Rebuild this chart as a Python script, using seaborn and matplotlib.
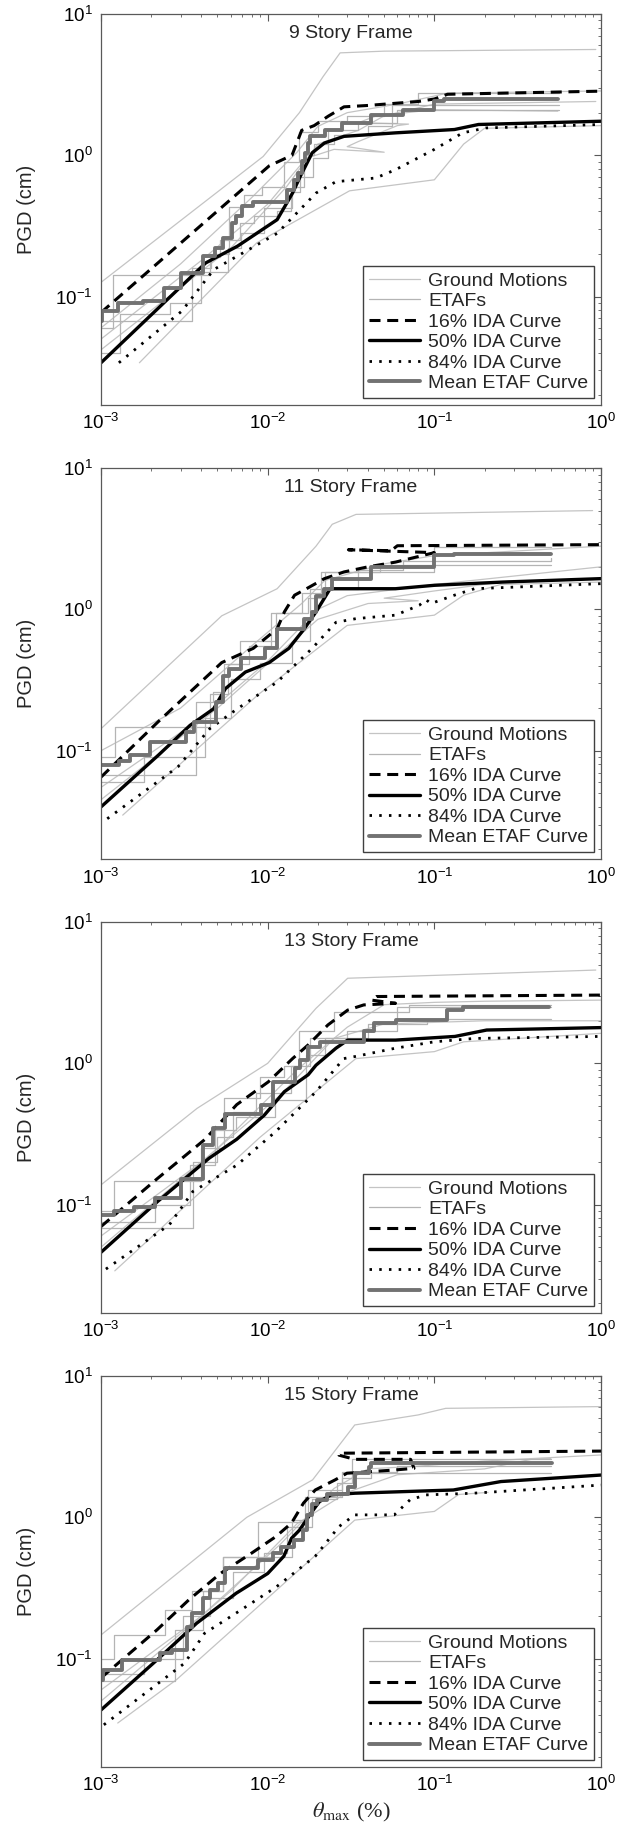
import matplotlib
matplotlib.use("Agg")
import matplotlib.pyplot as plt
import seaborn as sns

# ---- 9 story frame ----
gm9_top = [(0.001, 0.126), (0.0094, 0.98), (0.0155, 2.0), (0.0215, 3.6), (0.0272, 5.3), (0.05, 5.45), (0.93, 5.6)]
gm9_low = [(0.0017, 0.034), (0.0086, 0.24), (0.031, 0.56), (0.1, 0.67), (0.15, 1.2), (0.2, 1.55), (1.0, 1.62)]
gm9_mid1 = [(0.001, 0.05), (0.004, 0.18), (0.01, 0.45), (0.017, 0.95), (0.025, 1.1), (0.05, 1.05), (0.03, 1.15),
            (0.035, 1.25), (0.06, 1.62), (0.07, 1.66), (0.035, 1.7), (0.045, 1.9), (0.1, 2.1), (0.55, 2.05)]
gm9_mid2 = [(0.001, 0.06), (0.003, 0.17), (0.008, 0.5), (0.015, 1.05), (0.02, 1.6), (0.03, 2.0), (0.06, 2.3),
            (0.12, 2.75), (1.0, 2.85)]
gm9_mid3 = [(0.001, 0.042), (0.006, 0.22), (0.013, 0.6), (0.02, 1.2), (0.035, 1.5), (0.05, 1.9), (0.1, 2.3), (0.93, 2.4)]
etaf9_a = [(0.001, 0.06), (0.00118, 0.143), (0.0031, 0.143), (0.0045, 0.2), (0.0059, 0.43), (0.0072, 0.52),
           (0.0092, 0.6), (0.0125, 0.9), (0.0155, 1.45), (0.02, 1.75), (0.03, 1.9), (0.05, 2.3), (0.08, 2.75), (0.56, 2.75)]
etaf9_b = [(0.001, 0.067), (0.0035, 0.16), (0.0046, 0.19), (0.0052, 0.25), (0.0068, 0.33), (0.0083, 0.37),
           (0.0113, 0.4), (0.0138, 0.55), (0.0157, 0.7), (0.0188, 0.95), (0.023, 1.5), (0.035, 1.7), (0.06, 2.1), (0.56, 2.1)]
etaf9_c = [(0.001, 0.04), (0.0013, 0.075), (0.0026, 0.09), (0.004, 0.15), (0.0058, 0.22), (0.0069, 0.28),
           (0.0095, 0.42), (0.014, 0.6), (0.0165, 1.0), (0.019, 1.2), (0.025, 1.4), (0.04, 1.6), (0.056, 2.25), (0.56, 2.25)]
ida16_9 = [(0.001, 0.077), (0.0102, 0.84), (0.014, 1.0), (0.016, 1.5), (0.019, 1.62), (0.0231, 1.89), (0.0287, 2.2),
           (0.04, 2.25), (0.08, 2.4), (0.1, 2.5), (0.12, 2.7), (1.0, 2.84)]
ida50_9 = [(0.001, 0.034), (0.00425, 0.173), (0.00658, 0.227), (0.0114, 0.35), (0.0141, 0.54), (0.0157, 0.71),
           (0.0185, 1.04), (0.0219, 1.22), (0.0287, 1.36), (0.0585, 1.44), (0.132, 1.52), (0.184, 1.65), (1.0, 1.74)]
ida84_9 = [(0.00128, 0.034), (0.00306, 0.079), (0.00474, 0.155), (0.0114, 0.28), (0.0195, 0.54), (0.0257, 0.65),
           (0.0445, 0.69), (0.0585, 0.79), (0.1, 1.1), (0.148, 1.44), (0.204, 1.56), (1.0, 1.65)]
mean9 = [(0.001, 0.067), (0.00101, 0.079), (0.00127, 0.09), (0.00179, 0.093), (0.0024, 0.115), (0.00304, 0.147),
         (0.0041, 0.193), (0.0048, 0.221), (0.0054, 0.26), (0.0061, 0.33), (0.0065, 0.37), (0.007, 0.44),
         (0.0082, 0.47), (0.013, 0.57), (0.0143, 0.67), (0.0153, 0.75), (0.016, 0.91), (0.0167, 1.04),
         (0.0175, 1.22), (0.018, 1.36), (0.0221, 1.52), (0.028, 1.69), (0.0417, 1.94), (0.065, 2.1),
         (0.1, 2.4), (0.115, 2.5), (0.55, 2.5)]

# ---- 11 story frame ----
gm11_top = [(0.001, 0.143), (0.0053, 0.9), (0.0114, 1.4), (0.0195, 2.8), (0.0244, 4.0), (0.0339, 4.7), (0.89, 5.0)]
gm11_low = [(0.00135, 0.035), (0.0088, 0.25), (0.03, 0.77), (0.1, 0.91), (0.15, 1.26), (0.25, 1.5), (1.0, 1.56)]
gm11_mid1 = [(0.001, 0.055), (0.004, 0.17), (0.01, 0.43), (0.02, 1.0), (0.03, 1.25), (0.1, 1.5), (1.0, 2.0)]
gm11_mid2 = [(0.001, 0.1), (0.003, 0.2), (0.008, 0.55), (0.016, 1.1), (0.022, 1.6), (0.05, 2.1), (0.1, 2.4), (1.0, 2.8)]
gm11_mid3 = [(0.001, 0.045), (0.005, 0.2), (0.012, 0.5), (0.02, 0.85), (0.04, 1.1), (0.08, 1.15), (0.05, 1.2), (0.1, 1.35), (0.3, 1.6)]
etaf11_a = [(0.001, 0.067), (0.0037, 0.22), (0.0047, 0.26), (0.0055, 0.41), (0.0077, 0.55), (0.0105, 0.95),
            (0.0175, 1.2), (0.022, 1.85), (0.047, 2.07), (0.5, 2.07)]
etaf11_b = [(0.001, 0.09), (0.00121, 0.147), (0.0031, 0.147), (0.0045, 0.25), (0.0058, 0.41), (0.0068, 0.6),
            (0.0112, 0.95), (0.016, 1.3), (0.021, 1.85), (0.05, 1.85), (0.1, 2.75), (0.5, 2.75)]
etaf11_c = [(0.001, 0.06), (0.0018, 0.09), (0.0042, 0.17), (0.006, 0.32), (0.009, 0.42), (0.014, 0.6),
            (0.018, 1.4), (0.035, 1.9), (0.065, 2.2), (0.5, 2.3)]
ida16_11 = [(0.001, 0.065), (0.0022, 0.16), (0.0053, 0.42), (0.0082, 0.53), (0.0114, 0.73), (0.0126, 0.96),
            (0.0145, 1.26), (0.0171, 1.4), (0.0219, 1.65), (0.0287, 1.84), (0.04, 2.0), (0.0585, 2.16),
            (0.1, 2.52), (0.0305, 2.64), (0.055, 2.6), (0.06, 2.82), (1.0, 2.87)]
ida50_11 = [(0.001, 0.040), (0.00221, 0.093), (0.00342, 0.151), (0.00474, 0.198), (0.00558, 0.275), (0.00735, 0.36),
            (0.0102, 0.42), (0.0134, 0.53), (0.0166, 0.73), (0.0195, 0.96), (0.0237, 1.40), (0.0585, 1.40),
            (0.1, 1.48), (0.257, 1.56), (1.0, 1.65)]
ida84_11 = [(0.00109, 0.033), (0.0029, 0.077), (0.00449, 0.143), (0.00658, 0.198), (0.0114, 0.306), (0.0185, 0.53),
            (0.0257, 0.81), (0.0339, 0.86), (0.0585, 0.91), (0.0813, 1.07), (0.0891, 1.17), (0.0955, 1.1),
            (0.132, 1.26), (0.174, 1.40), (1.0, 1.52)]
mean11 = [(0.001, 0.079), (0.00128, 0.085), (0.0015, 0.093), (0.00198, 0.115), (0.00324, 0.135), (0.0036, 0.16),
          (0.00487, 0.22), (0.00543, 0.34), (0.00589, 0.38), (0.00695, 0.45), (0.00964, 0.53), (0.0114, 0.73),
          (0.0166, 0.86), (0.0185, 0.96), (0.0195, 1.25), (0.0219, 1.40), (0.0244, 1.65), (0.0417, 2.0),
          (0.1, 2.41), (0.132, 2.48), (0.5, 2.48)]

# ---- 13 story frame ----
gm13_top = [(0.001, 0.138), (0.00377, 0.48), (0.01, 1.0), (0.0195, 2.45), (0.0302, 4.0), (0.93, 4.57)]
gm13_low = [(0.00121, 0.034), (0.009, 0.3), (0.0338, 1.08), (0.1, 1.21), (0.15, 1.42), (1.0, 1.63)]
gm13_mid1 = [(0.001, 0.06), (0.004, 0.2), (0.012, 0.6), (0.025, 1.5), (0.05, 1.9), (0.2, 2.0), (1.0, 2.0)]
gm13_mid2 = [(0.001, 0.05), (0.005, 0.25), (0.015, 0.9), (0.03, 1.8), (0.05, 2.6), (0.1, 2.7), (0.2, 2.75), (1.0, 2.8)]
etaf13_a = [(0.001, 0.068), (0.00357, 0.2), (0.005, 0.3), (0.0062, 0.45), (0.0085, 0.62), (0.0138, 0.95),
            (0.018, 1.5), (0.03, 1.7), (0.06, 2.5), (0.5, 2.5)]
etaf13_b = [(0.001, 0.09), (0.00119, 0.146), (0.0029, 0.146), (0.004, 0.25), (0.0055, 0.57), (0.009, 0.8),
            (0.0125, 0.95), (0.0155, 1.7), (0.025, 2.3), (0.07, 2.6), (0.5, 2.6)]
etaf13_c = [(0.001, 0.075), (0.0021, 0.1), (0.0034, 0.19), (0.0048, 0.34), (0.0065, 0.42), (0.011, 0.55),
            (0.017, 1.15), (0.022, 1.5), (0.04, 1.9), (0.09, 2.05), (0.5, 2.05)]
ida16_13 = [(0.001, 0.07), (0.00218, 0.153), (0.00421, 0.29), (0.00652, 0.51), (0.0101, 0.74), (0.0141, 1.08),
            (0.0175, 1.35), (0.023, 1.87), (0.0302, 2.38), (0.0377, 2.59), (0.0585, 2.66), (0.042, 2.8),
            (0.045, 2.97), (1.0, 3.04)]
ida50_13 = [(0.001, 0.046), (0.00218, 0.105), (0.00445, 0.213), (0.00652, 0.29), (0.00955, 0.43), (0.0126, 0.63),
            (0.0175, 0.83), (0.0195, 0.97), (0.0257, 1.28), (0.0302, 1.46), (0.0585, 1.46), (0.133, 1.55),
            (0.206, 1.72), (1.0, 1.79)]
ida84_13 = [(0.00107, 0.035), (0.00257, 0.072), (0.00356, 0.124), (0.00652, 0.19), (0.0112, 0.33), (0.0195, 0.63),
            (0.0286, 1.08), (0.0338, 1.12), (0.0585, 1.28), (0.1, 1.42), (0.174, 1.5), (1.0, 1.55)]
mean13 = [(0.001, 0.085), (0.00119, 0.09), (0.00157, 0.097), (0.00212, 0.111), (0.00303, 0.153), (0.0041, 0.264),
          (0.00469, 0.35), (0.00553, 0.44), (0.00906, 0.51), (0.0107, 0.74), (0.0145, 0.92), (0.0157, 1.06),
          (0.0175, 1.31), (0.0206, 1.42), (0.0377, 1.68), (0.0433, 1.92), (0.0585, 2.03), (0.119, 2.38),
          (0.148, 2.51), (0.49, 2.51)]

# ---- 15 story frame ----
gm15_top = [(0.001, 0.147), (0.0075, 1.0), (0.0186, 1.84), (0.0333, 4.5), (0.08, 5.3), (0.117, 5.9), (1.0, 6.07)]
gm15_low = [(0.00126, 0.035), (0.00284, 0.071), (0.0333, 0.955), (0.1, 1.1), (0.14, 1.45), (0.21, 1.5)]
gm15_mid1 = [(0.001, 0.06), (0.004, 0.2), (0.012, 0.65), (0.025, 1.6), (0.04, 2.2), (0.08, 2.3), (0.2, 2.5), (1.0, 2.76)]
gm15_mid2 = [(0.001, 0.05), (0.006, 0.3), (0.015, 0.9), (0.03, 1.5), (0.06, 2.0), (0.2, 2.2), (0.4, 2.6), (0.5, 2.6)]
etaf15_a = [(0.001, 0.1), (0.00119, 0.147), (0.00242, 0.22), (0.0035, 0.3), (0.0054, 0.525), (0.0088, 0.93),
            (0.0167, 1.4), (0.028, 2.1), (0.06, 2.3), (0.5, 2.3)]
etaf15_b = [(0.001, 0.069), (0.00277, 0.16), (0.0041, 0.3), (0.0054, 0.525), (0.0139, 0.95), (0.0175, 1.55),
            (0.028, 1.9), (0.0414, 2.05), (0.5, 2.05)]
etaf15_c = [(0.001, 0.078), (0.0018, 0.1), (0.0031, 0.2), (0.0045, 0.27), (0.0062, 0.41), (0.0095, 0.56),
            (0.013, 0.85), (0.0185, 1.35), (0.026, 1.75), (0.032, 2.6), (0.5, 2.6)]
ida16_15 = [(0.001, 0.073), (0.00217, 0.16), (0.00336, 0.26), (0.0052, 0.40), (0.00805, 0.56), (0.0112, 0.73),
            (0.0139, 0.91), (0.0164, 1.26), (0.0193, 1.56), (0.0254, 1.84), (0.0299, 2.05), (0.0575, 2.16),
            (0.0755, 2.22), (0.072, 2.57), (0.0333, 2.57), (0.0268, 2.75), (0.0268, 2.84), (1.0, 2.94)]
ida50_15 = [(0.001, 0.0433), (0.00217, 0.098), (0.00375, 0.178), (0.00647, 0.29), (0.01, 0.40), (0.0125, 0.53),
            (0.0139, 0.71), (0.0155, 0.81), (0.0182, 1.07), (0.0204, 1.29), (0.024, 1.44), (0.0333, 1.48),
            (0.13, 1.56), (0.251, 1.79), (1.0, 1.99)]
ida84_15 = [(0.00104, 0.034), (0.00318, 0.093), (0.00418, 0.151), (0.00647, 0.21), (0.0112, 0.32), (0.0193, 0.53),
            (0.0268, 0.86), (0.0333, 1.04), (0.0575, 1.04), (0.0715, 1.33), (0.0891, 1.44), (0.171, 1.48), (1.0, 1.69)]
mean15 = [(0.001, 0.071), (0.00103, 0.083), (0.00133, 0.098), (0.00226, 0.11), (0.00265, 0.115), (0.00327, 0.168),
          (0.0035, 0.21), (0.00411, 0.267), (0.00451, 0.305), (0.00506, 0.34), (0.00555, 0.435), (0.0088, 0.50),
          (0.0108, 0.556), (0.0121, 0.62), (0.0143, 0.69), (0.0164, 0.81), (0.0171, 1.04), (0.0184, 1.25),
          (0.0197, 1.32), (0.0226, 1.45), (0.0305, 1.65), (0.0333, 2.05), (0.0403, 2.28), (0.0414, 2.44), (0.51, 2.44)]

titles = ["9 Story Frame", "11 Story Frame", "13 Story Frame", "15 Story Frame"]
ground = [[gm9_top, gm9_low, gm9_mid1, gm9_mid2, gm9_mid3],
          [gm11_top, gm11_low, gm11_mid1, gm11_mid2, gm11_mid3],
          [gm13_top, gm13_low, gm13_mid1, gm13_mid2],
          [gm15_top, gm15_low, gm15_mid1, gm15_mid2]]
etafs = [[etaf9_a, etaf9_b, etaf9_c], [etaf11_a, etaf11_b, etaf11_c],
         [etaf13_a, etaf13_b, etaf13_c], [etaf15_a, etaf15_b, etaf15_c]]
ida16 = [ida16_9, ida16_11, ida16_13, ida16_15]
ida50 = [ida50_9, ida50_11, ida50_13, ida50_15]
ida84 = [ida84_9, ida84_11, ida84_13, ida84_15]
means = [mean9, mean11, mean13, mean15]

legend_order = ["Ground Motions", "ETAFs", "16% IDA Curve", "50% IDA Curve", "84% IDA Curve", "Mean ETAF Curve"]

sns.set_theme(style="white")
plt.rcParams["font.family"] = ["Liberation Sans", "DejaVu Sans"]
plt.rcParams["mathtext.fontset"] = "custom"
plt.rcParams["mathtext.rm"] = "Liberation Sans"
plt.rcParams["mathtext.it"] = "Liberation Sans"


def draw(ax, pts, label=None, **kw):
    xs = [p[0] for p in pts]
    ys = [p[1] for p in pts]
    sns.lineplot(x=xs, y=ys, ax=ax, sort=False, estimator=None, legend=False, label=label, **kw)


fig = plt.figure(figsize=(6.2, 18.29), dpi=100)
bottoms = [0.7786, 0.5303, 0.2821, 0.0339]

for i in range(4):
    ax = fig.add_axes([0.1629, bottoms[i], 0.8065, 0.2138])
    ax.set_xscale("log")
    ax.set_yscale("log")
    ax.set_xlim(1e-3, 1.0)
    ax.set_ylim(0.0171, 10)

    for j, g in enumerate(ground[i]):
        draw(ax, g, label="Ground Motions" if j == 0 else None, color="#c4c4c4", lw=0.9)
    for j, e in enumerate(etafs[i]):
        draw(ax, e, label="ETAFs" if j == 0 else None, color="#b4b4b4", lw=0.9, drawstyle="steps-post")
    draw(ax, ida16[i], label="16% IDA Curve", color="black", lw=2.2, dashes=(3.6, 2.2))
    draw(ax, ida50[i], label="50% IDA Curve", color="black", lw=2.4)
    draw(ax, ida84[i], label="84% IDA Curve", color="black", lw=2.0, dashes=(0.9, 2.6))
    draw(ax, means[i], label="Mean ETAF Curve", color="#727272", lw=2.8, drawstyle="steps-post")

    handles, labels = ax.get_legend_handles_labels()
    lookup = dict(zip(labels, handles))
    leg = ax.legend([lookup[k] for k in legend_order], legend_order, loc="lower right",
                    fontsize=14, frameon=True, fancybox=False, framealpha=1, edgecolor="0.25",
                    borderpad=0.3, labelspacing=0.15, handlelength=2.6, handletextpad=0.45,
                    borderaxespad=0.35)
    leg.get_frame().set_linewidth(1.0)

    ax.text(0.5, 0.951, titles[i], transform=ax.transAxes, ha="center", va="center", fontsize=14)
    ax.set_ylabel("PGD (cm)", fontsize=14.5)
    ax.yaxis.set_label_coords(-0.13, 0.5)

    ax.tick_params(which="both", direction="in", top=True, right=True, colors="0.35",
                   labelcolor="black", labelsize=13.5)
    ax.tick_params(which="major", length=5, width=0.8, pad=6)
    ax.tick_params(which="minor", length=2.5, width=0.6)
    for s in ax.spines.values():
        s.set_color("0.35")
        s.set_linewidth(0.9)

fig.text(0.566, 0.0093, r"$\theta_{\rm max}$ (%)", ha="center", va="center", fontsize=16,
         family=["Liberation Serif", "DejaVu Serif"], math_fontfamily="stix")

fig.savefig("out.png", dpi=100)
